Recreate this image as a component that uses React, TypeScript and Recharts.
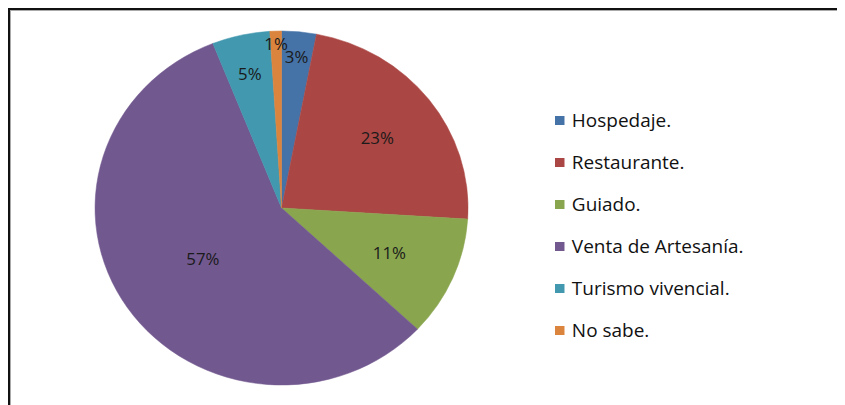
import React from "react";
import { PieChart, Pie, Cell } from "recharts";

const CATEGORIES = [
  "Hospedaje.",
  "Restaurante.",
  "Guiado.",
  "Venta de Artesanía.",
  "Turismo vivencial.",
  "No sabe.",
];
const PERCENTS = [3, 23, 11, 57, 5, 1];

const COLORS = ["#4572A7", "#AA4643", "#89A54E", "#71588F", "#4198AF", "#DB843D"];
// how far out (fraction of radius) each percentage label sits
const LABEL_RADIUS = [0.86, 0.65, 0.63, 0.51, 0.78, 0.93];

const FONT = "'Open Sans', 'Noto Sans', sans-serif";
const STRETCH = 1.0537;

const data = CATEGORIES.map((name, i) => ({ name, value: PERCENTS[i] }));

const RAD = Math.PI / 180;

const renderLabel = (props: any) => {
  const { cx, cy, midAngle, outerRadius, index, value } = props;
  const r = outerRadius * LABEL_RADIUS[index];
  const x = cx + r * Math.cos(-midAngle * RAD);
  const y = cy + r * Math.sin(-midAngle * RAD);
  return (
    <text
      x={x}
      y={y}
      fill="#1a1a1a"
      fontSize={16}
      fontFamily={FONT}
      textAnchor="middle"
      dominantBaseline="central"
    >
      {value}%
    </text>
  );
};

export default function App() {
  return (
    <div style={{ position: "relative", width: 900, height: 440 }}>
      <style>{"html, body { overflow: hidden; }"}</style>
      {/* frame of the original picture runs past the right and bottom edges */}
      <div
        style={{
          position: "absolute",
          inset: 0,
          border: "2px solid #111",
          boxShadow: "inset 1px 1px 0 #aaa",
        }}
      />
      <div
        style={{
          position: "absolute",
          left: 2,
          top: 2,
          width: 480,
          height: 387,
          transform: `scaleX(${STRETCH})`,
          transformOrigin: "0 0",
        }}
      >
        <PieChart width={480} height={387}>
          <Pie
            data={data}
            dataKey="value"
            nameKey="name"
            cx={252.7}
            cy={193}
            outerRadius={177}
            startAngle={90}
            endAngle={-270}
            label={renderLabel}
            labelLine={false}
            isAnimationActive={false}
          >
            {data.map((d, i) => (
              <Cell key={d.name} fill={COLORS[i]} stroke={COLORS[i]} strokeWidth={0.5} />
            ))}
          </Pie>
        </PieChart>
      </div>
      <div
        style={{
          position: "absolute",
          left: 547,
          top: 91,
          fontFamily: FONT,
          fontSize: 18,
          color: "#111",
          transform: `scaleX(${STRETCH})`,
          transformOrigin: "0 0",
        }}
      >
        {CATEGORIES.map((name, i) => (
          <div key={name} style={{ height: 42, display: "flex", alignItems: "center" }}>
            <span
              style={{
                display: "inline-block",
                width: 9,
                height: 9,
                background: COLORS[i],
                marginRight: 7,
              }}
            />
            <span style={{ whiteSpace: "nowrap" }}>{name}</span>
          </div>
        ))}
      </div>
    </div>
  );
}
